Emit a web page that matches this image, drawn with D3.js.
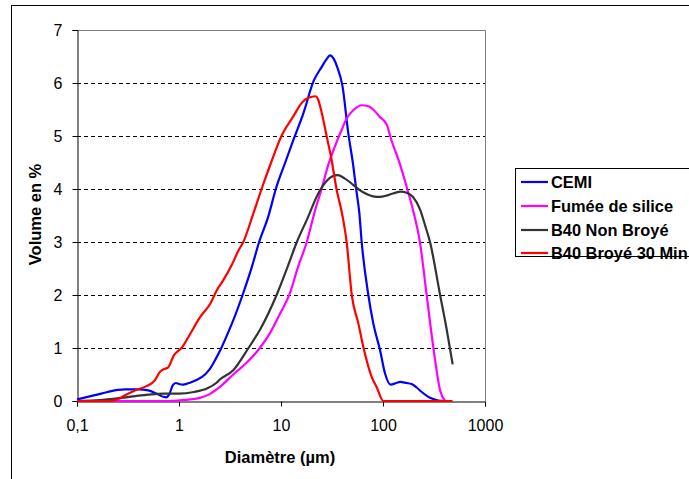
<!DOCTYPE html>
<html>
<head>
<meta charset="utf-8">
<script src="https://cdn.jsdelivr.net/npm/d3@7"></script>
<style>
  html, body { margin: 0; padding: 0; background: #fff; }
  svg { display: block; font-family: "Liberation Sans", Arial, sans-serif; }
</style>
</head>
<body>
<svg id="chart" width="689" height="479"></svg>
<script>
// Particle size distributions: [diameter (µm), volume (%)]
const cemi = [
  [0.1,0.03],[0.15,0.11],[0.2,0.17],[0.25,0.21],[0.3,0.22],[0.4,0.22],[0.5,0.2],[0.6,0.14],
  [0.7,0.08],[0.75,0.07],[0.8,0.12],[0.87,0.3],[0.93,0.34],[1.0,0.32],[1.1,0.31],[1.3,0.35],
  [1.5,0.4],[1.8,0.5],[2.0,0.6],[2.3,0.8],[2.6,1.0],[3.0,1.27],[3.4,1.52],[4.2,2.0],[5.2,2.54],
  [6.1,3.0],[7.5,3.48],[8.9,4.0],[11,4.5],[13.2,4.92],[16.6,5.43],[20.8,6.03],[25,6.3],[28,6.45],
  [30.2,6.52],[33,6.45],[35.6,6.3],[40,5.95],[45.7,5.05],[51,4.45],[55,3.95],[58.6,3.55],[61.8,3.0],
  [71.8,2.0],[80.4,1.46],[93.5,0.96],[104.7,0.52],[119,0.31],[135,0.34],[147,0.36],[170,0.34],
  [191,0.32],[215,0.25],[240,0.17],[289,0.06],[348,0.01],[410,0]
];
const fumee = [
  [0.1,0],[0.8,0],[1.0,0.01],[1.3,0.03],[1.6,0.06],[2.0,0.13],[2.5,0.26],[3.4,0.5],[4.6,0.72],
  [6.2,1.0],[7.8,1.28],[9.8,1.65],[12.1,2.01],[14.7,2.53],[17.9,3.0],[21.6,3.6],[25,4.0],[29,4.45],
  [33.7,4.8],[39,5.1],[44,5.33],[52,5.5],[62,5.58],[72,5.56],[80,5.5],[93,5.36],[109,5.21],
  [121,4.92],[146,4.48],[170,4.05],[197,3.6],[230,3.0],[268,2.0],[312,1.0],[363,0.2],[407,0]
];
const b40NonBroye = [
  [0.1,0],[0.15,0.01],[0.2,0.03],[0.3,0.07],[0.4,0.1],[0.5,0.12],[0.7,0.14],[1.0,0.14],[1.4,0.17],
  [1.9,0.24],[2.35,0.35],[2.5,0.4],[3.4,0.58],[4.8,1.0],[6.2,1.34],[9.1,2.01],[11.6,2.53],[14.3,3.0],
  [18.5,3.48],[21.6,3.79],[24.2,3.98],[28,4.15],[32,4.24],[36,4.26],[42,4.2],[51,4.08],[60,3.97],
  [70,3.9],[80,3.86],[93,3.85],[110,3.88],[127,3.92],[150,3.95],[170,3.93],[197,3.85],[230,3.62],
  [260,3.3],[289,3.0],[363,2.0],[422,1.34],[482,0.69]
];
const b40Broye30 = [
  [0.1,0],[0.2,0],[0.25,0.03],[0.29,0.1],[0.37,0.2],[0.48,0.28],[0.58,0.39],[0.65,0.55],[0.73,0.61],
  [0.78,0.63],[0.89,0.86],[1.08,1.02],[1.29,1.27],[1.62,1.59],[2.03,1.84],[2.35,2.09],[2.7,2.27],
  [3.3,2.57],[3.85,2.85],[4.27,3.0],[5.36,3.54],[6.45,4.0],[8,4.5],[10.1,5.0],[13.2,5.37],[15.9,5.62],
  [18.5,5.72],[21.8,5.75],[23,5.7],[25,5.45],[28,5.0],[31,4.6],[35,4.0],[40,3.5],[44,3.0],[49.4,2.0],
  [57.4,1.46],[64.5,1.0],[77.6,0.45],[86.7,0.26],[101,0],[480,0]
];

const seriesNames = ["CEMI", "Fumée de silice", "B40 Non Broyé", "B40 Broyé 30 Min"];
const seriesData = [cemi, fumee, b40NonBroye, b40Broye30];
const seriesColors = ["#0000ff", "#ff00ff", "#333333", "#ff0000"];

const xTicks = [0.1, 1, 10, 100, 1000];
const xTickLabels = ["0,1", "1", "10", "100", "1000"];
const yTicks = [0, 1, 2, 3, 4, 5, 6, 7];

const svg = d3.select("#chart");
const plot = { left: 77, right: 485, top: 30, bottom: 401 };

const x = d3.scaleLog().domain([0.1, 1000]).range([plot.left, plot.right]);
const y = d3.scaleLinear().domain([0, 7]).range([plot.bottom, plot.top]);

// outer chart frame
svg.append("rect")
  .attr("x", 11.5).attr("y", 5.5).attr("width", 700).attr("height", 500)
  .attr("fill", "#fff").attr("stroke", "#000").attr("stroke-width", 1);

// horizontal dashed gridlines
svg.append("g")
  .selectAll("line")
  .data(yTicks.filter(v => v > 0 && v < 7))
  .join("line")
  .attr("x1", plot.left).attr("x2", plot.right)
  .attr("y1", d => Math.round(y(d)) + 0.5).attr("y2", d => Math.round(y(d)) + 0.5)
  .attr("stroke", "#000").attr("stroke-width", 1).attr("stroke-dasharray", "4,3");

// plot area border (top and right)
svg.append("path")
  .attr("d", `M${plot.left},${plot.top + 0.5}H${plot.right + 0.5}V${plot.bottom}`)
  .attr("fill", "none").attr("stroke", "#808080").attr("stroke-width", 1);

// y axis
const yAxis = d3.axisLeft(y).tickValues(yTicks).tickSize(5).tickPadding(10).tickFormat(d3.format("d"));
const gy = svg.append("g").attr("transform", `translate(${plot.left + 0.5},0)`).call(yAxis);
gy.select(".domain").attr("stroke", "#000");
gy.selectAll(".tick line").attr("stroke", "#000");
gy.selectAll(".tick text").attr("font-size", 16).attr("font-family", "Liberation Sans, Arial, sans-serif").attr("fill", "#000");

// x axis
const xAxis = d3.axisBottom(x).tickValues(xTicks).tickSize(5).tickPadding(13)
  .tickFormat((d, i) => xTickLabels[i]);
const gx = svg.append("g").attr("transform", `translate(0,${plot.bottom + 0.5})`).call(xAxis);
gx.select(".domain").attr("stroke", "#000");
gx.selectAll(".tick line").attr("stroke", "#000");
gx.selectAll(".tick text").attr("font-size", 16).attr("font-family", "Liberation Sans, Arial, sans-serif").attr("fill", "#000");

// curves
const line = d3.line()
  .x(d => x(d[0]))
  .y(d => y(d[1]))
  .curve(d3.curveMonotoneX);

svg.append("g")
  .selectAll("path")
  .data(seriesData)
  .join("path")
  .attr("d", d => line(d))
  .attr("fill", "none")
  .attr("stroke", (d, i) => seriesColors[i])
  .attr("stroke-width", 2.2)
  .attr("stroke-linejoin", "round");

// axis titles
svg.append("text")
  .attr("x", (plot.left + plot.right) / 2 - 1).attr("y", 463)
  .attr("text-anchor", "middle").attr("font-size", 16.5).attr("font-weight", "bold")
  .text("Diamètre (µm)");

svg.append("text")
  .attr("transform", `translate(41,${(plot.top + plot.bottom) / 2 - 1}) rotate(-90)`)
  .attr("text-anchor", "middle").attr("font-size", 16.5).attr("font-weight", "bold")
  .text("Volume en %");

// legend
const legend = svg.append("g");
legend.append("rect")
  .attr("x", 515.5).attr("y", 168.5).attr("width", 200).attr("height", 88)
  .attr("fill", "#fff").attr("stroke", "#000").attr("stroke-width", 1);
const rowY = [182, 206, 230, 253];
seriesNames.forEach((name, i) => {
  legend.append("line")
    .attr("x1", 521).attr("x2", 548)
    .attr("y1", rowY[i]).attr("y2", rowY[i])
    .attr("stroke", seriesColors[i]).attr("stroke-width", 2.2);
  legend.append("text")
    .attr("x", 551).attr("y", rowY[i] + 5.8)
    .attr("font-size", 16.4).attr("font-weight", "bold")
    .text(name);
});
</script>
</body>
</html>
